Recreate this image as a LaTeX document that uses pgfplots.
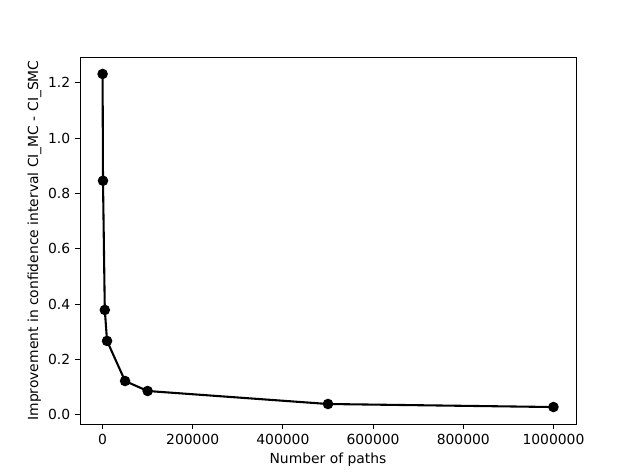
\documentclass[border=0pt]{standalone}
\usepackage{fontspec}
\setmainfont{DejaVu Sans}
\usepackage{pgfplots}
\pgfplotsset{compat=1.18}

\begin{document}
\begin{tikzpicture}
\begin{axis}[name=ax, scale only axis, width=357.12pt, height=264.24pt,
  xmin=-49995, xmax=1050005, ymin=-0.0333, ymax=1.2933,
  xtick={0,200000,400000,600000,800000,1000000},
  ytick={0,0.2,0.4,0.6,0.8,1.0,1.2},
  xticklabel style={/pgf/number format/.cd, fixed, 1000 sep={}},
  yticklabel style={/pgf/number format/.cd, fixed, fixed zerofill, precision=1},
  /pgf/number format/assume math mode=true,
  scaled x ticks=false,
  tick align=outside, tick pos=left, major tick length=3.5pt,
  tick style={black, line width=0.6pt},
  axis line style={line width=0.6pt},
  tick label style={font=\fontsize{10}{12}\selectfont},
  label style={font=\fontsize{10}{12}\selectfont},
  xlabel={Number of paths},
  ylabel={Improvement in confidence interval CI\_MC - CI\_SMC},
  xlabel style={yshift=0.5pt},
  ylabel style={yshift=-2pt}]
\addplot[black, line width=1.5pt, mark=*, mark size=3pt] coordinates {
  (100,1.232) (1000,0.846) (5000,0.379) (10000,0.267)
  (50000,0.122) (100000,0.086) (500000,0.039) (1000000,0.028)};
\end{axis}
\path ([xshift=-57.6pt,yshift=-37.44pt]ax.south west) rectangle ([xshift=46.08pt,yshift=41.04pt]ax.north east);
\end{tikzpicture}
\end{document}
